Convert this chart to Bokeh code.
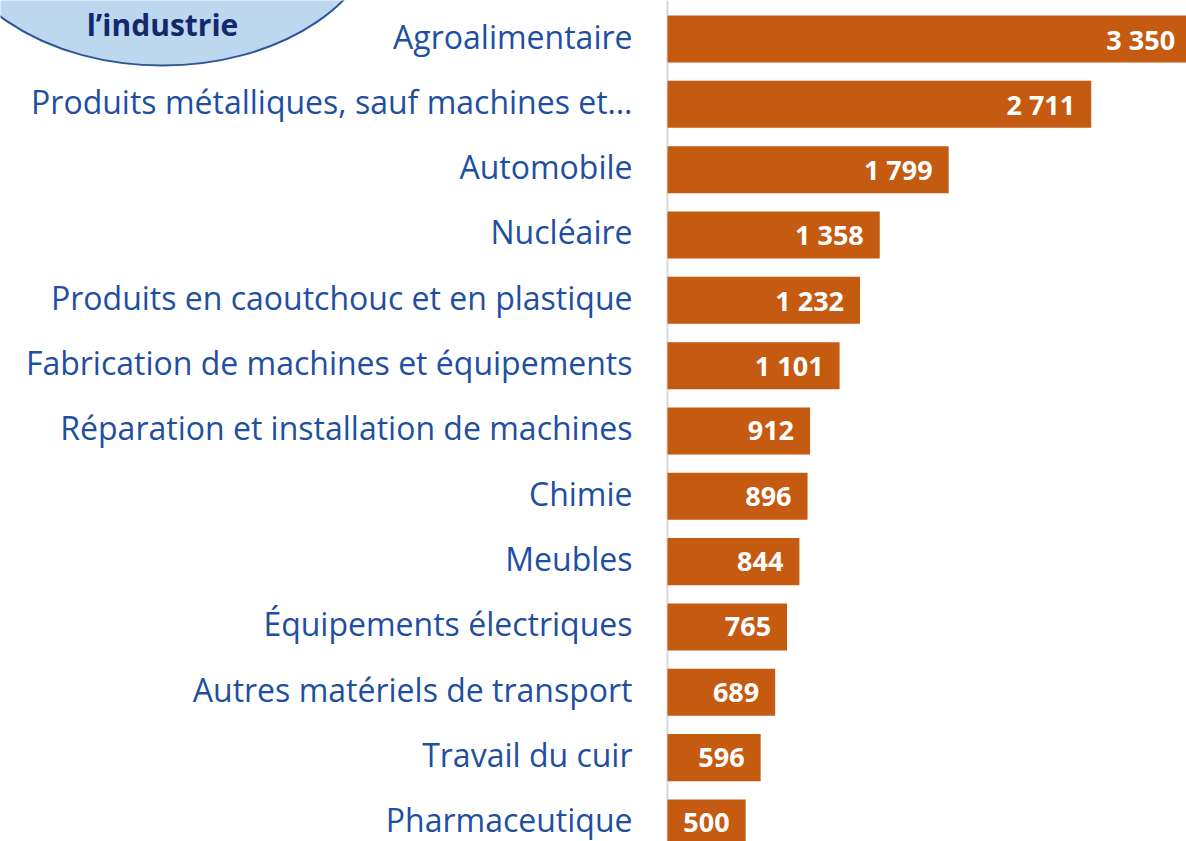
from bokeh.plotting import figure
from bokeh.models import Range1d, ColumnDataSource, Span
from bokeh.embed import file_html
from bokeh.resources import INLINE
from bokeh.core.properties import value

# ---- data ----
categories = [
    "Agroalimentaire",
    "Produits métalliques, sauf machines et…",
    "Automobile",
    "Nucléaire",
    "Produits en caoutchouc et en plastique",
    "Fabrication de machines et équipements",
    "Réparation et installation de machines",
    "Chimie",
    "Meubles",
    "Équipements électriques",
    "Autres matériels de transport",
    "Travail du cuir",
    "Pharmaceutique",
]
values = [3350, 2711, 1799, 1358, 1232, 1101, 912, 896, 844, 765, 689, 596, 500]
badge_text = "l’industrie"

# ---- layout constants ----
W, H = 1186, 841
PX_PER_UNIT = 0.1563
X0_PX = 667          # pixel position of the value axis (x = 0)
PITCH = 65.33        # pixels per category row
FIRST_CENTER = 38.5  # pixel y of the first bar centre

n = len(categories)
ypos = [n - 1 - i for i in range(n)]
x_start = -X0_PX / PX_PER_UNIT
x_end = (W - X0_PX) / PX_PER_UNIT
y_end = ypos[0] + FIRST_CENTER / PITCH
y_start = ypos[-1] - (H - (FIRST_CENTER + (n - 1) * PITCH)) / PITCH

labels = [f"{v:,}".replace(",", " ") for v in values]
src = ColumnDataSource(dict(cat=categories, val=values, y=ypos, lab=labels))

p = figure(width=W, height=H, output_backend="svg", toolbar_location=None,
           x_range=Range1d(x_start, x_end), y_range=Range1d(y_start, y_end),
           min_border=0, outline_line_color=None, background_fill_color="white",
           border_fill_color="white")
p.xaxis.visible = False
p.yaxis.visible = False
p.xgrid.visible = False
p.ygrid.visible = False

p.extra_x_ranges = {"px": Range1d(0, W)}
p.extra_y_ranges = {"px": Range1d(H, 0)}

# badge ellipse (top-left, cropped)
p.ellipse(x=[162], y=[-83], width=[436], height=[296],
          x_range_name="px", y_range_name="px",
          fill_color="#BDD7EE", line_color="#2F5597", line_width=2)
p.text(x=[162], y=[24], text=[badge_text], x_range_name="px", y_range_name="px",
       text_align="center", text_baseline="alphabetic",
       text_font=value("Open Sans"), text_font_style="bold",
       text_font_size="30px", text_color="#14286E")

# axis line
p.add_layout(Span(location=0, dimension="height", line_color="#D9D9D9",
                  line_width=2, level="underlay"))

# bars
p.hbar(y="y", left=0, right="val", height=0.72, source=src,
       fill_color="#C55A11", line_color=None)

# category labels
p.text(x=0, y="y", text="cat", source=src, x_offset=-35, y_offset=-3,
       text_align="right", text_baseline="middle",
       text_font=value("Open Sans"), text_font_size="32px", text_color="#1F4FA0")

# value labels
p.text(x="val", y="y", text="lab", source=src, x_offset=-16, y_offset=0,
       text_align="right", text_baseline="middle",
       text_font=value("Open Sans"), text_font_style="bold",
       text_font_size="27px", text_color="white")

open("out.html", "w").write(file_html(p, INLINE))
